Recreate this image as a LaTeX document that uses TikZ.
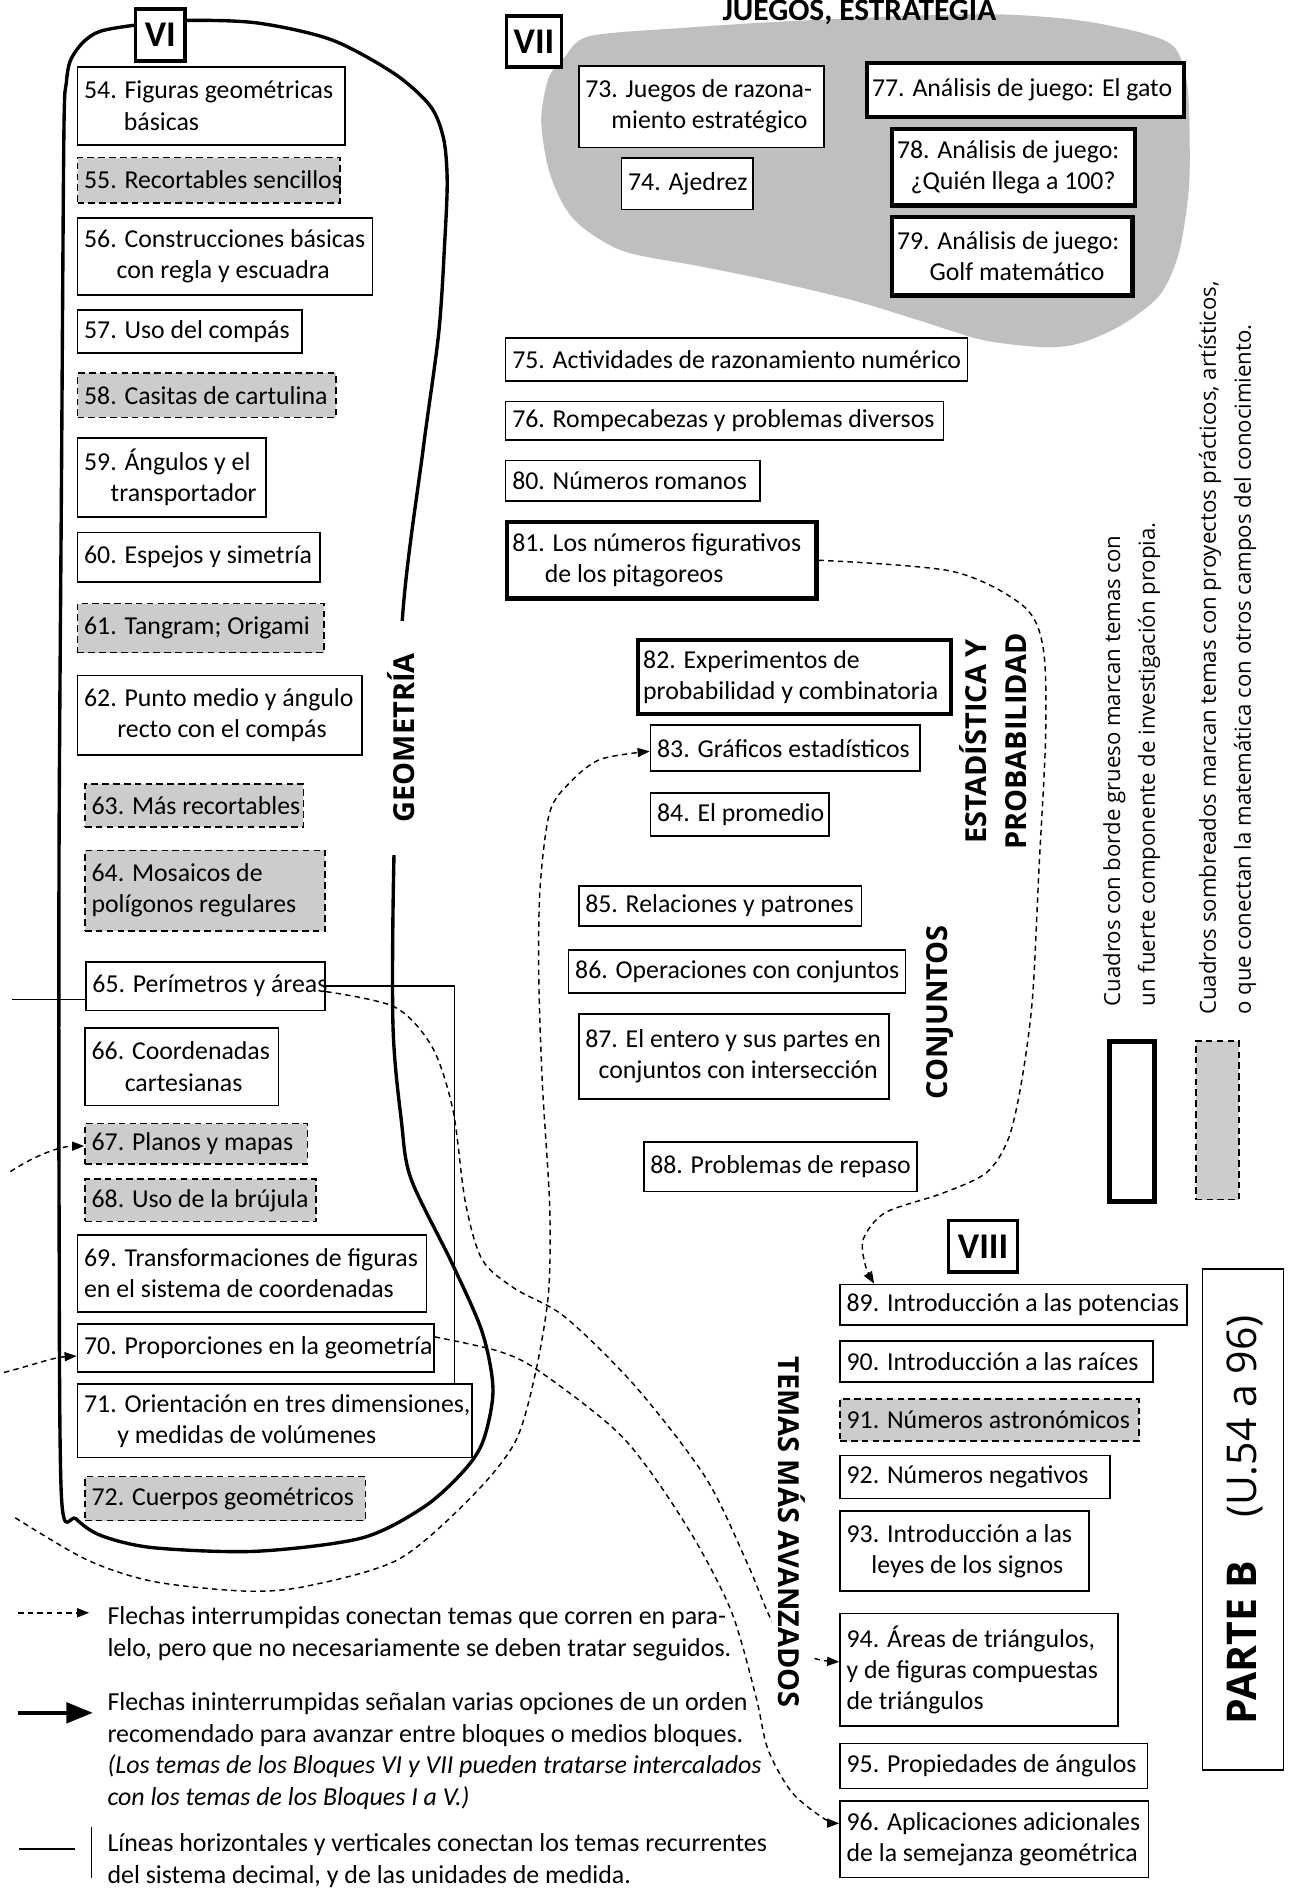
\documentclass[tikz,border=0pt]{standalone}
\usepackage{fontspec}
\setmainfont{Carlito}
\newfontfamily\titulo{Open Sans}
\usetikzlibrary{arrows.meta}
\tikzset{
  caja/.style={draw,line width=1.4pt,fill=white,anchor=north west,inner sep=0pt},
  sombra/.style={caja,fill=black!20,dash pattern=on 5.5pt off 3.5pt},
  grueso/.style={caja,line width=3.6pt},
  texto/.style={anchor=west,align=left,inner xsep=6pt,inner ysep=0pt,font=\fontsize{21.4}{25.8}\selectfont},
  bloque/.style={draw,line width=3pt,fill=white,anchor=north west,inner sep=0pt,font=\bfseries\fontsize{30}{30}\selectfont},
  rotulo/.style={align=center,inner sep=0pt,font=\titulo\bfseries\fontsize{24}{33}\selectfont},
  leyenda/.style={align=left,inner sep=0pt,font=\titulo\fontsize{18.4}{29}\selectfont},
  nota/.style={align=left,inner sep=0pt,font=\fontsize{21.5}{26.3}\selectfont},
  flecha/.style={dash pattern=on 4.5pt off 3.5pt,line width=1.2pt,-{Triangle[length=10pt,width=7.5pt]}},
  linea/.style={line width=1.3pt}
}
\begin{document}
\begin{tikzpicture}[x=1pt,y=-1pt]
  \useasboundingbox (0,0) rectangle (1069,1568);
  \fill[black!25] plot[smooth cycle] coordinates {(449,100) (455,65) (468,48) (489,30) (569,23) (647,18) (760,13) (833,12) (896,17) (950,28) (975,40) (985,70) (987,120) (986,160) (978,210) (962,245) (930,270) (895,285) (865,288) (815,282) (760,265) (707,249) (640,233) (581,221) (519,209) (485,190) (468,171) (455,140)};
  \draw[line width=2.8pt] plot[smooth cycle] coordinates {(111,21) (152,17) (213,19) (275,33) (327,61) (357,88) (368,115) (371,150) (369,200) (364,276) (351,373) (334,511) (327,703) (326,850) (333,930) (341,978) (375,1048) (400,1105) (409,1153) (401,1195) (385,1220) (352,1250) (300,1276) (212,1287) (127,1284) (84,1274) (63,1260) (51,1242) (49,1000) (49,700) (51,400) (53,111) (55,69) (58.5,50) (69,35) (83,26)};

  \foreach \n/\x/\y/\w/\h/\tx in {
    54/63.6/54.7/221.8/64.7/{54. Figuras geométricas\\\hspace*{33pt}básicas},
    56/63.6/180.2/244.8/63.9/{56. Construcciones básicas\\\hspace*{27pt}con regla y escuadra},
    57/63.6/256.3/186.4/35.9/{57. Uso del compás},
    59/63.6/362.4/156.4/66/{59. Ángulos y el\\\hspace*{22pt}transportador},
    60/63.6/441/201.1/41.3/{60. Espejos y simetría},
    62/63.6/559.7/236.2/65.9/{62. Punto medio y ángulo\\\hspace*{27.5pt}recto con el compás},
    65/70.5/797.4/198.7/40.2/{65. Perímetros y áreas},
    66/69.8/852/160.6/64.4/{66. Coordenadas\\\hspace*{27.5pt}cartesianas},
    69/63.6/1023.6/289.5/64.2/{69. Transformaciones de figuras\\en el sistema de coordenadas},
    70/63.6/1098/295.7/39.6/{70. Proporciones en la geometría},
    71/63.6/1147.5/327.4/60.9/{71. Orientación en tres dimensiones,\\\hspace*{27.5pt}y medidas de volúmenes},
    73/479.4/54/203.6/67.6/{73. Juegos de razona-\\\hspace*{21.7pt}miento estratégico},
    74/514.9/130.5/109.3/42.5/{74. Ajedrez},
    75/418.8/279.7/383.2/35.5/{75. Actividades de razonamiento numérico},
    76/418.8/332.3/363.2/32/{76. Rompecabezas y problemas diversos},
    80/418.8/381.4/210.8/33.3/{80. Números romanos},
    83/539/601/223.3/38/{83. Gráficos estadísticos},
    84/539/657.2/148.2/35.8/{84. El promedio},
    85/479.4/734.3/234.5/33.3/{85. Relaciones y patrones},
    86/471/787.6/279.6/35.6/{86. Operaciones con conjuntos},
    87/479.4/840.6/257.6/70.4/{87. El entero y sus partes en\\\hspace*{11pt}conjuntos con intersección},
    88/533.3/946.8/226.7/41/{88. Problemas de repaso},
    89/696.2/1065/287.8/33.3/{89. Introducción a las potencias},
    90/696.2/1111.9/259.8/34/{90. Introducción a las raíces},
    92/696.2/1206.7/223.7/35.9/{92. Números negativos},
    93/696.2/1252.9/206.8/66.3/{93. Introducción a las\\\hspace*{20.6pt}leyes de los signos},
    94/696.2/1338/230.8/93.4/{94. Áreas de triángulos,\\y de figuras compuestas\\de triángulos},
    95/696.2/1445.8/255.2/37.2/{95. Propiedades de ángulos},
    96/696.2/1493.4/255.8/63.6/{96. Aplicaciones adicionales\\de la semejanza geométrica}}
  {
    \node[caja,minimum width=\w,minimum height=\h] (t\n) at (\x,\y) {};
    \node[texto] (x\n) at (t\n.west) {\tx};
  }
  \foreach \n/\x/\y/\w/\h/\tx in {
    55/63.6/130/217.6/37.5/{55. Recortables sencillos},
    58/63.6/309/214.2/36.6/{58. Casitas de cartulina},
    61/63.6/500/204.6/40.7/{61. Tangram; Origami},
    63/69.8/650/181.2/35.4/{63. Más recortables},
    64/69.8/704.8/199.1/66.9/{64. Mosaicos de\\polígonos regulares},
    67/69.8/931.4/184.6/33.3/{67. Planos y mapas},
    68/69.8/977.7/191.5/34.9/{68. Uso de la brújula},
    72/69.8/1224.3/232.7/36.5/{72. Cuerpos geométricos},
    91/696.2/1160.2/247.8/34.6/{91. Números astronómicos}}
  {
    \node[sombra,minimum width=\w,minimum height=\h] (t\n) at (\x,\y) {};
    \node[texto] (x\n) at (t\n.west) {\tx};
  }
  \foreach \n/\x/\y/\w/\h/\tx in {
    77/717.3/50.3/263/45.1/{77. Análisis de juego: El gato},
    78/738/105/201.7/63.6/{78. Análisis de juego:\\\hspace*{11.3pt}¿Quién llega a 100?},
    79/738/178.3/199.7/65/{79. Análisis de juego:\\\hspace*{27pt}Golf matemático},
    81/418.8/431.3/256.7/63.4/{81. Los números figurativos\\\hspace*{27pt}de los pitagoreos},
    82/527.4/529/259.6/61.5/{82. Experimentos de\\probabilidad y combinatoria}}
  {
    \node[grueso,minimum width=\w,minimum height=\h] (t\n) at (\x,\y) {};
    \node[texto] (x\n) at (t\n.west) {\tx};
  }

  \node[bloque,minimum width=41,minimum height=43] (vi) at (111,6) {VI};
  \node[bloque,minimum width=45.4,minimum height=42.6] (vii) at (418.8,11.6) {VII};
  \node[bloque,minimum width=57.1,minimum height=42.9] (viii) at (785.5,1011) {VIII};
  \node[anchor=base,font=\bfseries\fontsize{26}{26}\selectfont] (juegos) at (713,17) {JUEGOS, ESTRATEGIA};

  \coordinate (e65) at (10,829.2);
  \draw[linea] (e65) -- (e65 -| t65.west);
  \coordinate (k71) at ([xshift=-15.5pt]t71.north east);
  \draw[linea] (t65.east) -| (k71);

  \coordinate (s67) at (8.6,972);
  \draw[flecha] (s67) .. controls (30,958) and (50,951) .. ([yshift=-2pt]t67.west);
  \coordinate (s70) at (3.4,1138.6);
  \draw[flecha] (s70) .. controls (25,1133) and (45,1126) .. ([yshift=-6.5pt]t70.west);
  \coordinate (s83) at (12.7,1259.2);
  \draw[flecha] plot[smooth] coordinates {(s83) (72,1294) (127,1312) (203,1320) (254,1316) (330,1294) (389,1244) (427,1197) (444,1140) (455,1073) (456,1000) (450,900) (447,812) (448,737) (456,674) (473,649) (498,630) ([yshift=-2.6pt]t83.west)};
  \coordinate (j89) at ([xshift=29pt]t89.north west);
  \draw[flecha] plot[smooth] coordinates {(t81.east) (790,474) (848.8,502.6) (865.4,537.5) (867.5,610) (862,720) (856.5,829) (847.4,898) (836.5,945) (818.2,973) (781.8,990) (734.5,1006) (716.2,1028) (718,1050) (j89)};
  \draw[flecha] plot[smooth] coordinates {([yshift=-4.5pt]t65.east) (327.6,835.5) (358.6,868.8) (375.8,921) (386,997) (400,1045) (427,1069) (468.6,1092.5) (527,1150) (585.5,1226) (620,1297) (640.6,1345) (663,1370) (680,1377) ([yshift=6.7pt]t94.west)};
  \draw[flecha] plot[smooth] coordinates {([yshift=9.4pt]t70.east) (413.7,1121) (448,1138) (516.8,1192.6) (568.4,1264) (606,1335) (627,1407) (637,1451) (657,1487) (684,1509) ([yshift=13.2pt]t96.west)};

  \node[rotulo,rotate=90,fill=white,minimum width=194,inner ysep=3pt] (geo) at (333,612) {GEOMETRÍA};
  \node[rotulo,rotate=90] (esta) at (824,615) {ESTADÍSTICA Y\\PROBABILIDAD};
  \node[rotulo,rotate=90] (conj) at (780,840) {CONJUNTOS};
  \node[rotulo,rotate=-90,fill=white,inner sep=5pt] (temas) at (657,1271) {TEMAS MÁS AVANZADOS};

  \node[grueso,line width=4pt,minimum width=37,minimum height=132.5] (lg1) at (918.5,862) {};
  \node[sombra,minimum width=35.7,minimum height=131.5] (lg2) at (991.3,863) {};
  \node[leyenda,rotate=90,anchor=north west] (c1) at (915,835) {Cuadros con borde grueso marcan temas con\\un fuerte componente de investigación propia.};
  \node[leyenda,rotate=90,anchor=north west] (c2) at (994.5,842) {Cuadros sombreados marcan temas con proyectos prácticos, artísticos,\\o que conectan la matemática con otros campos del conocimiento.};

  \node[caja,minimum width=67,minimum height=416] (parte) at (997,1052) {};
  \node[rotate=90,inner sep=0pt,font=\titulo\fontsize{34}{34}\selectfont] (partetx) at (1033,1261) {\textbf{PARTE B}\hspace{36pt}(U.54 a 96)};

  \coordinate (l1a) at (15,1338);
  \coordinate (l1b) at (74,1338);
  \draw[flecha] (l1a) -- (l1b);
  \coordinate (l2a) at (15,1421);
  \coordinate (l2b) at (77,1421);
  \draw[line width=3pt,-{Triangle[length=22pt,width=17pt]}] (l2a) -- (l2b);
  \coordinate (l3a) at (16,1534);
  \coordinate (l3b) at (62.6,1534);
  \draw[linea] (l3a) -- (l3b);
  \coordinate (l4a) at (76,1516);
  \coordinate (l4b) at (76,1558);
  \draw[linea] (l4a) -- (l4b);
  \node[nota,anchor=north west] (n1) at (89,1333) {Flechas interrumpidas conectan temas que corren en para-\\lelo, pero que no necesariamente se deben tratar seguidos.};
  \node[nota,anchor=north west] (n2) at (89,1404) {Flechas ininterrumpidas señalan varias opciones de un orden\\recomendado para avanzar entre bloques o medios bloques.\\\textit{(Los temas de los Bloques VI y VII pueden tratarse intercalados}\\\textit{con los temas de los Bloques I a V.)}};
  \node[nota,anchor=north west] (n3) at (89,1521) {Líneas horizontales y verticales conectan los temas recurrentes\\del sistema decimal, y de las unidades de medida.};
\end{tikzpicture}
\end{document}
